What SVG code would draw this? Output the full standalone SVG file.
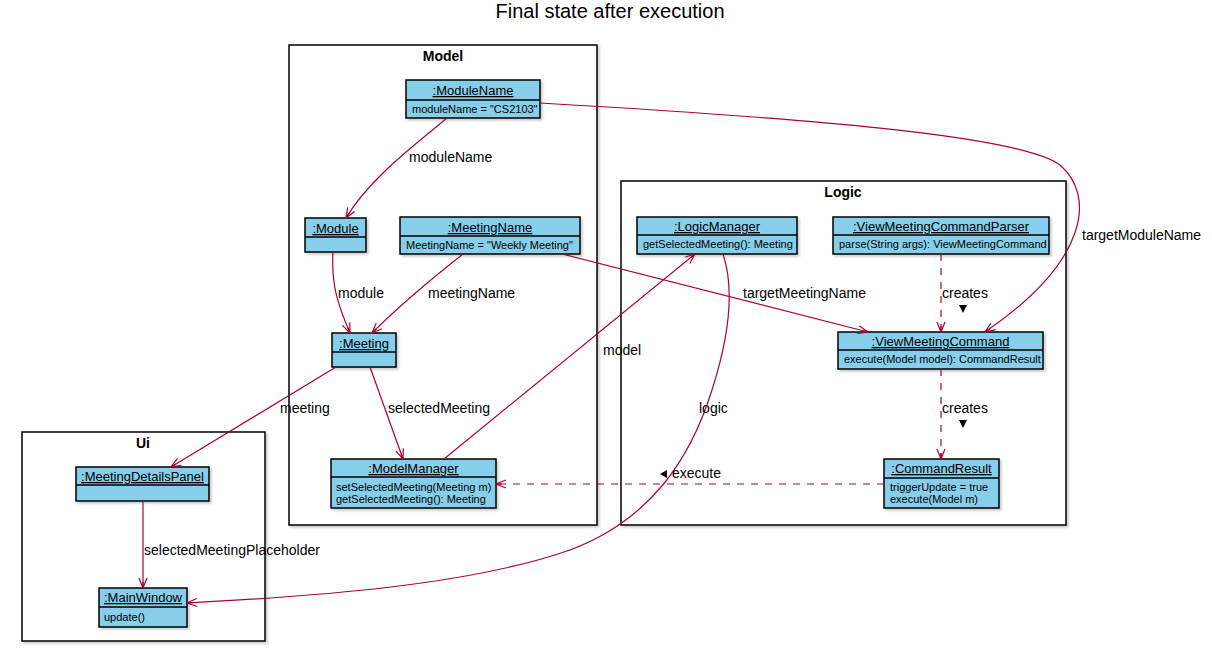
<svg xmlns="http://www.w3.org/2000/svg" width="1212" height="652" viewBox="0 0 1212 652">
<style>
.pkg{fill:#FFFFFF;stroke:#000000;stroke-width:1.5}
.pkt{font-family:"Liberation Sans",Arial,sans-serif;font-size:14px;font-weight:bold;fill:#000;text-anchor:middle}
.box{fill:#87CEEB;stroke:#000000;stroke-width:1.5}
.div{stroke:#000000;stroke-width:1.5}
.hd{font-family:"Liberation Sans",Arial,sans-serif;font-size:13px;fill:#000;text-anchor:middle;text-decoration:underline}
.bd{font-family:"Liberation Sans",Arial,sans-serif;font-size:11px;fill:#000}
.lbl{font-family:"Liberation Sans",Arial,sans-serif;font-size:14px;fill:#000}
.e{fill:none;stroke:#A80036;stroke-width:1.2}
.d{stroke-dasharray:7,7}
.tri{fill:#000}
</style>
<defs>
<filter id="sh" x="-5%" y="-5%" width="115%" height="120%"><feDropShadow dx="2" dy="2" stdDeviation="1" flood-color="#000" flood-opacity="0.2"/></filter>
<marker id="ar" viewBox="0 0 12 10" refX="11" refY="5" markerWidth="12" markerHeight="10" markerUnits="userSpaceOnUse" orient="auto">
<path d="M1,1 L11,5 L1,9 M5,5 L11,5" fill="none" stroke="#A80036" stroke-width="1.2"/>
</marker>
</defs>
<rect width="1212" height="652" fill="#FFFFFF"/>
<text x="610" y="18" font-family="'Liberation Sans',Arial,sans-serif" font-size="20" text-anchor="middle" fill="#000">Final state after execution</text>

<g id="pkg-model"><rect class="pkg" x="289" y="45" width="308" height="480" filter="url(#sh)"/><text class="pkt" x="443" y="61">Model</text></g>
<g id="pkg-logic"><rect class="pkg" x="621" y="181" width="445" height="344" filter="url(#sh)"/><text class="pkt" x="843" y="197">Logic</text></g>
<g id="pkg-ui"><rect class="pkg" x="22" y="432" width="243" height="209" filter="url(#sh)"/><text class="pkt" x="143" y="448">Ui</text></g>

<g id="ModuleName"><rect class="box" x="406" y="80" width="134" height="38" filter="url(#sh)"/><line class="div" x1="406" y1="100" x2="540" y2="100"/><text class="hd" x="473" y="95">:ModuleName</text><text class="bd" x="412" y="113">moduleName = "CS2103"</text></g>
<g id="Module"><rect class="box" x="305" y="218" width="61" height="34" filter="url(#sh)"/><line class="div" x1="305" y1="237" x2="366" y2="237"/><text class="hd" x="335.5" y="233">:Module</text></g>
<g id="MeetingName"><rect class="box" x="400" y="217" width="180" height="37" filter="url(#sh)"/><line class="div" x1="400" y1="236" x2="580" y2="236"/><text class="hd" x="490" y="232">:MeetingName</text><text class="bd" x="406" y="249">MeetingName = "Weekly Meeting"</text></g>
<g id="Meeting"><rect class="box" x="332" y="333" width="64" height="34" filter="url(#sh)"/><line class="div" x1="332" y1="352" x2="396" y2="352"/><text class="hd" x="364" y="348">:Meeting</text></g>
<g id="ModelManager"><rect class="box" x="331" y="459" width="165" height="49" filter="url(#sh)"/><line class="div" x1="331" y1="477" x2="496" y2="477"/><text class="hd" x="413.5" y="473">:ModelManager</text><text class="bd" x="336" y="491">setSelectedMeeting(Meeting m)</text><text class="bd" x="336" y="503">getSelectedMeeting(): Meeting</text></g>
<g id="LogicManager"><rect class="box" x="637" y="217" width="160" height="37" filter="url(#sh)"/><line class="div" x1="637" y1="235" x2="797" y2="235"/><text class="hd" x="717" y="231">:LogicManager</text><text class="bd" x="643" y="248">getSelectedMeeting(): Meeting</text></g>
<g id="ViewMeetingCommandParser"><rect class="box" x="833" y="217" width="216" height="37" filter="url(#sh)"/><line class="div" x1="833" y1="235" x2="1049" y2="235"/><text class="hd" x="941" y="231">:ViewMeetingCommandParser</text><text class="bd" x="839" y="248">parse(String args): ViewMeetingCommand</text></g>
<g id="ViewMeetingCommand"><rect class="box" x="838" y="332" width="205" height="37" filter="url(#sh)"/><line class="div" x1="838" y1="350" x2="1043" y2="350"/><text class="hd" x="940.5" y="346">:ViewMeetingCommand</text><text class="bd" x="844" y="363">execute(Model model): CommandResult</text></g>
<g id="CommandResult"><rect class="box" x="884" y="459" width="115" height="49" filter="url(#sh)"/><line class="div" x1="884" y1="478" x2="999" y2="478"/><text class="hd" x="941.5" y="473">:CommandResult</text><text class="bd" x="890" y="491">triggerUpdate = true</text><text class="bd" x="890" y="503">execute(Model m)</text></g>
<g id="MeetingDetailsPanel"><rect class="box" x="76" y="467" width="133" height="34" filter="url(#sh)"/><line class="div" x1="76" y1="485" x2="209" y2="485"/><text class="hd" x="142.5" y="481">:MeetingDetailsPanel</text></g>
<g id="MainWindow"><rect class="box" x="99" y="588" width="88" height="39" filter="url(#sh)"/><line class="div" x1="99" y1="607" x2="187" y2="607"/><text class="hd" x="143" y="602">:MainWindow</text><text class="bd" x="104" y="621">update()</text></g>

<g id="connectors">
<path class="e" d="M447,118 C415,145 370,178 346,218" marker-end="url(#ar)"/>
<text class="lbl" x="409" y="162">moduleName</text>
<path class="e" d="M333,252 C331,285 338,305 350,333" marker-end="url(#ar)"/>
<text class="lbl" x="338" y="298">module</text>
<path class="e" d="M463,254 C430,280 400,305 372,333" marker-end="url(#ar)"/>
<text class="lbl" x="428" y="298">meetingName</text>
<path class="e" d="M562,254 L868,332" marker-end="url(#ar)"/>
<text class="lbl" x="743" y="298">targetMeetingName</text>
<path class="e" d="M540,103 C800,118 1020,135 1060,165 C1095,195 1090,260 985,332" marker-end="url(#ar)"/>
<text class="lbl" x="1082" y="240">targetModuleName</text>
<path class="e" d="M336,367 L171,467" marker-end="url(#ar)"/>
<text class="lbl" x="280" y="413">meeting</text>
<path class="e" d="M370,367 L403,459" marker-end="url(#ar)"/>
<text class="lbl" x="388" y="413">selectedMeeting</text>
<path class="e" d="M444,459 L695,254" marker-end="url(#ar)"/>
<text class="lbl" x="603" y="355">model</text>
<path class="e" d="M723,254 C735,290 728,340 712,390 C690,460 650,520 570,550 C470,585 320,596 187,603" marker-end="url(#ar)"/>
<text class="lbl" x="699" y="413">logic</text>
<path class="e d" d="M941,254 L941,332" marker-end="url(#ar)"/>
<text class="lbl" x="942" y="298">creates</text>
<polygon class="tri" points="959,305 967,305 963,313"/>
<path class="e d" d="M941,369 L941,459" marker-end="url(#ar)"/>
<text class="lbl" x="942" y="413">creates</text>
<polygon class="tri" points="959,420 967,420 963,428"/>
<path class="e d" d="M884,484 L496,484" marker-end="url(#ar)"/>
<polygon class="tri" points="660,474 667,470 667,478"/>
<text class="lbl" x="672" y="478">execute</text>
<path class="e" d="M143,501 L143,588" marker-end="url(#ar)"/>
<text class="lbl" x="144" y="555">selectedMeetingPlaceholder</text>
</g>
</svg>
